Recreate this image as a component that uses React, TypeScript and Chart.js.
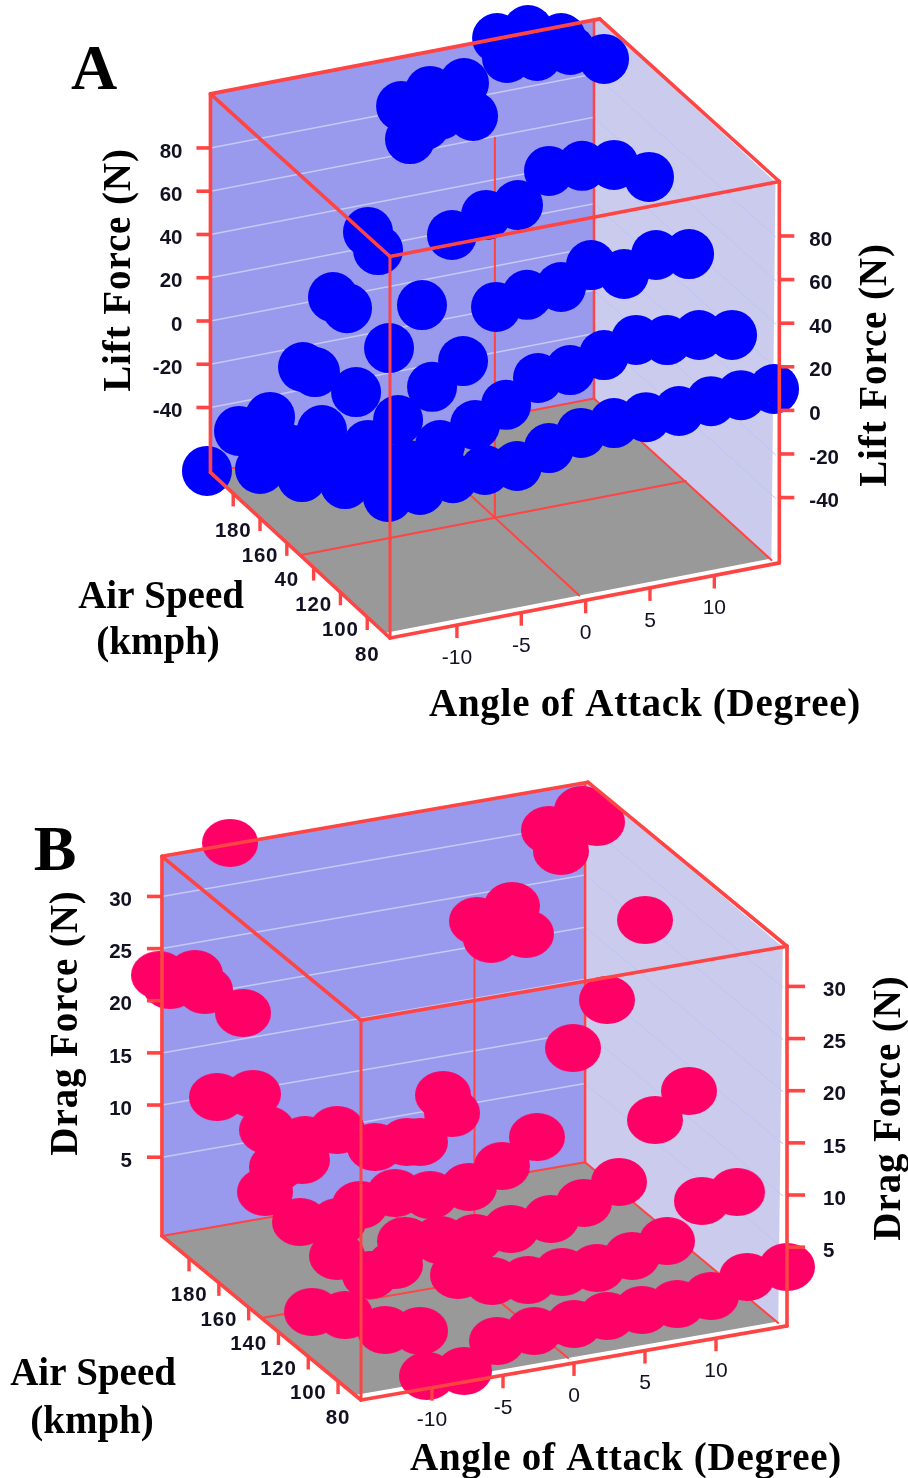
import React, { useEffect, useRef } from "react";
import { Chart, registerables } from "chart.js";

Chart.register(...registerables);

// ---------- Panel A: lift force, one pair of arrays per air speed ----------
const liftAngle65 = [14.85, 12.28, 9.95, 7.47, 4.9, 2.41, -0.15, -2.64, -5.12, -7.61, -10.1, -12.66, -15.15];
const liftForce65 = [8.9, 9.0, 8.9, 7.2, 7.3, 7.4, 5.8, 1.7, -3.7, -2.7, -3.6, -6.1, -6.5];
const liftAngle85 = [13.67, 11.1, 8.62, 6.21, 3.72, 1.08, -1.41, -3.89, -6.3, -9.02, -11.51, -13.84];
const liftForce85 = [23.7, 26.6, 27.1, 29.9, 25.8, 21.9, 21.1, 11.6, 5.1, -1, -7.3, -10.6];
const liftAngle105 = [12.41, 9.84, 7.36, 4.79, 2.46, -0.18, -2.59, -5.15, -7.56, -10.2, -12.53, -14.71, -14.32];
const liftForce105 = [50.9, 53.4, 47.5, 54.5, 47.1, 46.5, 43.7, 21.8, 12.7, 0.5, -8.3, -15, -24.2];
const liftAngle125 = [11.38, 8.66, 6.18, 3.61, 1.2, -1.28, -3.93, -6.26, -8.82, -11.38, -14.03, -15.58, -15.74];
const liftForce125 = [76.1, 84.7, 87.1, 87.7, 74.8, 73.1, 66.9, 37.4, 20.6, 3.3, -11.1, -30.9, -18.3];
const liftAngle145 = [9.97, 7.33, 4.76, 2.43, -0.21, -2.78, -5.11, -7.59, -10, -12.49, -15.2];
const liftForce145 = [120.5, 127.6, 127.8, 129.5, 105.9, 109.3, 100.9, 52.8, 28.9, 2.4, -28];
const liftAngle165 = [8.71, 6.14, 3.74, 1.17, -1.47, -3.72, -1.86, -6.29, -9.01, -11.34, -13.9, -14.68];
const liftForce165 = [120.2, 126.8, 125.8, 108.1, 107.5, 103.1, 92.3, 48.3, 21.5, -7.9, -27.9, -50.9];
const liftAngle185 = [-14.23, -16.72];
const liftForce185 = [-45.3, -60.8];

// ---------- Panel B: drag force, one pair of arrays per air speed ----------
const dragAngle65 = [15.04, 12.23, 9.69, 7.3, 4.83, 2.37, 0.04, -2.77, -5.38, -7.7, -10.31];
const dragForce65 = [3.04, 2.75, 1.52, 1.32, 1.33, 1.34, 1.13, 1.12, 0.78, -1.54, -1.41];
const dragAngle85 = [13.62, 11.15, 8.69, 6.23, 3.76, 1.3, -1.1, -3.63, -6.03, -8.7, -11.17, -13.99];
const dragForce85 = [8.21, 7.94, 4.68, 3.83, 3.26, 3.46, 3.26, 3.76, 4.91, 0.18, 0.85, 2.95];
const dragAngle105 = [12.34, 9.94, 7.41, 4.94, 2.62, -0.2, -2.73, -5.2, -7.66, -10.13, -8.37, -12.45, -14.21, -15.06];
const dragForce105 = [15.85, 13.63, 8.29, 6.87, 5.88, 5.58, 5.32, 5.71, 6.2, 3.53, 4.07, 5.9, 0.95, 9.77];
const dragAngle125 = [11.34, 8.66, 6.27, 3.73, 1.27, -1.06, -3.8, -6.27, -8.73, -10.28];
const dragForce125 = [30.12, 23.09, 19.05, 11.11, 8.92, 7.46, 7.34, 8.11, 7.55, 6.28];
const dragAngle145 = [10.06, 7.52, 5.06, 2.59, -0.15, -2.41, -3.32, -5.58, -8.25, -10.72, -12.48, -13.32, -14.87];
const dragForce145 = [37.47, 35.29, 27.92, 28.03, 11.98, 9.74, 9.96, 10.01, 12.27, 9.98, 9.73, 7.54, 25.06];
const dragAngle165 = [11.1, 8.77, 6.17, 3.7, 1.31, -8.41, -11.08, -13.69, -15.45, -12.07];
const dragForce165 = [36.02, 34.65, 27.98, 27.12, 11.01, 8.99, 10.59, 38.73, 25.04, 14.28];
const dragAngle185 = [-12.51, -14.06, -15.82, -16.59];
const dragForce185 = [11.73, 23.89, 23.25, 24.39];

// ---------- Axis ticks ----------
const angleTicks = [-10, -5, 0, 5, 10];
const speedTicks = [80, 100, 120, 140, 160, 180];
const liftSpeedLabels = ["80", "100", "120", "40", "160", "180"];
const dragSpeedLabels = ["80", "100", "120", "140", "160", "180"];
const liftTicks = [-40, -20, 0, 20, 40, 60, 80];
const dragTicks = [5, 10, 15, 20, 25, 30];

const RED = "#FF4444";
const serif = '"Liberation Serif", "Times New Roman", serif';
const sans = '"Liberation Sans", Arial, sans-serif';

const rowsA = [
  [65, liftAngle65, liftForce65], [85, liftAngle85, liftForce85], [105, liftAngle105, liftForce105],
  [125, liftAngle125, liftForce125], [145, liftAngle145, liftForce145], [165, liftAngle165, liftForce165],
  [185, liftAngle185, liftForce185],
];
const rowsB = [
  [65, dragAngle65, dragForce65], [85, dragAngle85, dragForce85], [105, dragAngle105, dragForce105],
  [125, dragAngle125, dragForce125], [145, dragAngle145, dragForce145], [165, dragAngle165, dragForce165],
  [185, dragAngle185, dragForce185],
];

type Panel = any;

const panelA: Panel = {
  yRange: [0, 739],
  origin: [390, 638], perAngle: [12.87, -2.48], perSpeed: [-1.34, -1.236], perForce: [0, -2.18],
  angle: [-15.2, 15.05], speed: [63, 197], force: [-70, 105], squash: 0.000128, backInset: 0.45,
  rows: rowsA, forceTicks: liftTicks, speedLabels: liftSpeedLabels,
  color: "#0000FF", radius: 25,
  leftTick: 14, rightTick: 15, leftGap: 14, rightGap: 15,
  letter: "A", letterPos: [94, 89],
  speedTitlePos: [161, 608], kmphPos: [158, 654], angleTitlePos: [645, 716],
  forceTitle: "Lift Force (N)", forceLeft: [130, 270], forceRight: [886, 365],
  speedLabelDy: 38,
};
const panelB: Panel = {
  yRange: [739, 1478],
  origin: [361, 1400], perAngle: [14.2, -2.47], perSpeed: [-1.49, -1.228], perForce: [0, -10.43],
  angle: [-15, 15], speed: [64.6, 198.2], force: [-2.55, 33.85], squash: 0, backInset: 0.2,
  rows: rowsB, forceTicks: dragTicks, speedLabels: dragSpeedLabels,
  color: "#FF0066", ellipse: [28, 24], radius: 28,
  leftTick: 15, rightTick: 18, leftGap: 15, rightGap: 18,
  letter: "B", letterPos: [55, 870],
  speedTitlePos: [93, 1385], kmphPos: [92, 1433], angleTitlePos: [626, 1470],
  forceTitle: "Drag Force (N)", forceLeft: [77, 1023], forceRight: [900, 1108],
  speedLabelDy: 37,
};

function project(p: Panel, angle: number, speed: number, force: number) {
  const da = angle - p.angle[0];
  const ds = speed - p.speed[0];
  const df = force - p.force[0];
  return {
    x: p.origin[0] + da * p.perAngle[0] + ds * p.perSpeed[0],
    y: p.origin[1] + da * p.perAngle[1] + ds * p.perSpeed[1] + df * p.perForce[1],
  };
}

function makeSprite(rx: number, ry: number, color: string) {
  const c = document.createElement("canvas");
  c.width = rx * 2;
  c.height = ry * 2;
  const g = c.getContext("2d")!;
  g.fillStyle = color;
  g.beginPath();
  g.ellipse(rx, ry, rx, ry, 0, 0, Math.PI * 2);
  g.fill();
  return c;
}

function framePlugin(p: Panel) {
  const [a0, a1] = p.angle;
  const [s0, s1] = p.speed;
  const [f0, f1] = p.force;
  const aMid = (a0 + a1) / 2;
  const sMid = (s0 + s1) / 2;
  const aBack = a1 - p.backInset;
  const helpers = (chart: any) => {
    const ctx = chart.ctx as CanvasRenderingContext2D;
    const px = (a: number, s: number, f: number) => {
      const q = project(p, a, s, f);
      const lift = (s - s0) * (f - f0) * p.squash;
      return [chart.scales.x.getPixelForValue(q.x), chart.scales.y.getPixelForValue(q.y + lift)];
    };
    const poly = (pts: number[][], fill: string) => {
      ctx.fillStyle = fill;
      ctx.beginPath();
      pts.forEach(([x, y], i) => (i ? ctx.lineTo(x, y) : ctx.moveTo(x, y)));
      ctx.closePath();
      ctx.fill();
    };
    const seg = (u: number[], v: number[], w: number, color = RED, cap: CanvasLineCap = "round") => {
      ctx.strokeStyle = color;
      ctx.lineWidth = w;
      ctx.lineCap = cap;
      ctx.beginPath();
      ctx.moveTo(u[0], u[1]);
      ctx.lineTo(v[0], v[1]);
      ctx.stroke();
    };
    return { ctx, px, poly, seg };
  };
  return {
    id: "frame",
    beforeDatasetsDraw(chart: any) {
      const { ctx, px, poly, seg } = helpers(chart);
      ctx.save();
      const inset = 0.3;
      // Walls and floor
      poly([px(aBack, s1, f0), px(a1 - inset, s0 + 3, f0), px(a1 - inset, s0, f1), px(a1, s1, f1), px(aBack, s1, f1)], "#CBCBEE");
      poly([px(a0, s1, f0), px(aBack, s1, f0), px(aBack, s1, f1), px(a0, s1, f1)], "#9999EE");
      poly([px(a0, s1, f0), px(aBack, s1, f0), px(a1 - inset, s0 + 4, f0), px(a0 + 0.1, s0 + 4, f0)], "#999999");
      // Gridlines on the two walls
      p.forceTicks.forEach((f: number) => {
        seg(px(a0, s1, f), px(aBack, s1, f), 1.5, "#C6C9F4");
        seg(px(aBack, s1, f), px(a1 - inset, s0, f), 1, "#BCC6F4");
      });
      // Thin lines behind the points
      seg(px(a0, s1, f0), px(aBack, s1, f0), 2);
      seg(px(aBack, s1, f0), px(a1 - inset, s0 + 3, f0), 2);
      seg(px(a0, sMid, f0), px(a1 - inset, sMid, f0), 2);
      seg(px(aMid, s1, f0), px(aMid, s0 + 4, f0), 2);
      seg(px(aMid, sMid, f0), px(aMid, sMid, f1), 2);
      seg(px(aBack, s1, f0), px(aBack, s1, f1), 2.5);
      ctx.restore();
    },
    afterDatasetsDraw(chart: any) {
      const { ctx, px, seg } = helpers(chart);
      const yPx = (v: number) => chart.scales.y.getPixelForValue(v);
      ctx.save();
      // Box edges in front of the points
      const w = 3.6;
      seg(px(a0, s1, f1), px(a1, s1, f1), w);
      seg(px(a0, s0, f1), px(a1, s0, f1), w);
      seg(px(a0, s1, f1), px(a0, s0, f1), w);
      seg(px(a1, s1, f1), px(a1, s0, f1), w);
      seg(px(a0, s1, f0), px(a0, s1, f1), w);
      seg(px(a0, s0, f0), px(a0, s0, f1), 3);
      seg(px(a1, s0, f0), px(a1, s0, f1), w);
      seg(px(a0, s0, f0), px(a1, s0, f0), 3.8);
      seg(px(a0, s0, f0), px(a0, s1, f0), w);

      // Axis ticks
      angleTicks.forEach((a) => {
        const q = px(a, s0, f0);
        seg(q, [q[0], q[1] + 13], 3.4, RED, "butt");
      });
      speedTicks.forEach((s) => {
        const q = px(a0, s, f0);
        seg(q, [q[0], q[1] + 13], 3.4, RED, "butt");
      });
      p.forceTicks.forEach((f: number) => {
        const l = px(a0, s1, f);
        const r = px(a1, s0, f);
        seg(l, [l[0] - p.leftTick, l[1]], 3.6, RED, "butt");
        seg(r, [r[0] + p.rightTick, r[1]], 3.6, RED, "butt");
      });

      // Tick labels
      ctx.fillStyle = "#111122";
      ctx.textBaseline = "middle";
      ctx.textAlign = "center";
      ctx.font = `21px ${sans}`;
      angleTicks.forEach((a) => {
        const q = px(a, s0, f0);
        ctx.fillText(String(a), q[0], q[1] + 33);
      });
      ctx.font = `bold 20.5px ${sans}`;
      (ctx as any).letterSpacing = "0.8px";
      speedTicks.forEach((s, i) => {
        const q = px(a0, s, f0);
        ctx.fillText(p.speedLabels[i], q[0], q[1] + p.speedLabelDy);
      });
      (ctx as any).letterSpacing = "0px";
      p.forceTicks.forEach((f: number) => {
        const l = px(a0, s1, f);
        const r = px(a1, s0, f);
        ctx.textAlign = "right";
        ctx.fillText(String(f), l[0] - p.leftTick - p.leftGap, l[1] + 4);
        ctx.textAlign = "left";
        ctx.fillText(String(f), r[0] + p.rightTick + p.rightGap, r[1] + 4);
      });

      // Titles
      ctx.fillStyle = "#000000";
      ctx.textBaseline = "alphabetic";
      ctx.textAlign = "center";
      ctx.font = `bold 64px ${serif}`;
      ctx.fillText(p.letter, p.letterPos[0], yPx(p.letterPos[1]));
      ctx.font = `bold 39px ${serif}`;
      ctx.fillText("Air Speed", p.speedTitlePos[0], yPx(p.speedTitlePos[1]));
      ctx.fillText("(kmph)", p.kmphPos[0], yPx(p.kmphPos[1]));
      (ctx as any).letterSpacing = "0.75px";
      ctx.fillText("Angle of Attack (Degree)", p.angleTitlePos[0], yPx(p.angleTitlePos[1]));
      (ctx as any).letterSpacing = "0.9px";
      [p.forceLeft, p.forceRight].forEach((pos: number[]) => {
        ctx.save();
        ctx.translate(pos[0], yPx(pos[1]));
        ctx.rotate(-Math.PI / 2);
        ctx.fillText(p.forceTitle, 0, 0);
        ctx.restore();
      });
      (ctx as any).letterSpacing = "0px";
      ctx.restore();
    },
  };
}

function usePanel(ref: React.RefObject<HTMLCanvasElement | null>, p: Panel) {
  useEffect(() => {
    if (!ref.current) return;
    const style = p.ellipse ? makeSprite(p.ellipse[0], p.ellipse[1], p.color) : "circle";
    const chart = new Chart(ref.current, {
      type: "scatter",
      data: {
        datasets: p.rows.map(([speed, angles, forces]: any) => ({
          label: `${speed} kmph`,
          data: angles.map((a: number, i: number) => project(p, a, speed, forces[i])),
          backgroundColor: p.color,
          borderColor: p.color,
          borderWidth: 0,
          pointRadius: p.radius,
          pointStyle: style,
          clip: false,
        })),
      },
      options: {
        responsive: false,
        animation: false,
        devicePixelRatio: 1,
        events: [],
        layout: { padding: 0, autoPadding: false },
        plugins: { legend: { display: false }, tooltip: { enabled: false }, title: { display: false } },
        scales: {
          x: { type: "linear", min: 0, max: 908, display: false },
          y: { type: "linear", min: p.yRange[0], max: p.yRange[1], reverse: true, display: false },
        },
      },
      plugins: [framePlugin(p)],
    } as any);
    return () => chart.destroy();
  }, []);
}

export default function App() {
  const a = useRef<HTMLCanvasElement>(null);
  const b = useRef<HTMLCanvasElement>(null);
  usePanel(a, panelA);
  usePanel(b, panelB);
  return (
    <div style={{ position: "absolute", left: 0, top: 0, width: 908, height: 1478, background: "#fff" }}>
      <canvas ref={a} width={908} height={739} style={{ display: "block", width: 908, height: 739 }} />
      <canvas ref={b} width={908} height={739} style={{ display: "block", width: 908, height: 739 }} />
    </div>
  );
}
